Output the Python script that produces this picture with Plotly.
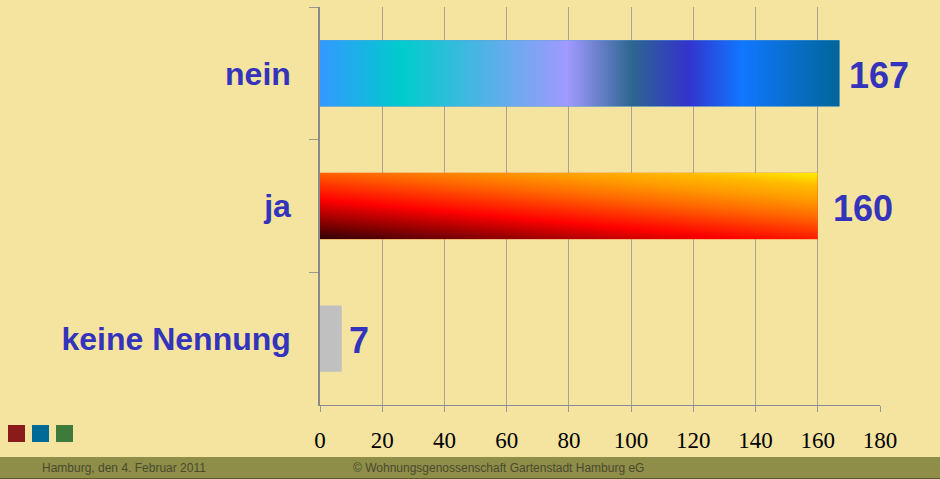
import base64
import plotly.graph_objects as go

# ---- data ----
categories = ["nein", "ja", "keine Nennung"]
values = [167, 160, 7]
x_ticks = [0, 20, 40, 60, 80, 100, 120, 140, 160, 180]
footer_left = "Hamburg, den 4. Februar 2011"
footer_mid = "© Wohnungsgenossenschaft Gartenstadt Hamburg eG"

# ---- styles ----
W, H = 940, 479
BG = "#F4E4A0"
BLUE = "#3333BB"
L, R, T, B = 320, 60, 7, 74
PW, PH = W - L - R, H - T - B


def px_x(x):
    return (x - L) / PW


def px_y(y):
    return (H - B - y) / PH


def svg_uri(stops, x1, y1, x2, y2):
    st = "".join(f'<stop offset="{o}" stop-color="{c}"/>' for o, c in stops)
    svg = (f'<svg xmlns="http://www.w3.org/2000/svg" width="100" height="100" '
           f'viewBox="0 0 100 100" preserveAspectRatio="none">'
           f'<defs><linearGradient id="g" x1="{x1}" y1="{y1}" x2="{x2}" y2="{y2}">{st}'
           f'</linearGradient></defs><rect x="0" y="0" width="100" height="100" fill="url(#g)"/></svg>')
    return "data:image/svg+xml;base64," + base64.b64encode(svg.encode()).decode()


grad_nein = svg_uri([(0, "#3399FF"), (0.158, "#00CCCC"), (0.477, "#A099FF"),
                     (0.6, "#2E6690"), (0.708, "#3333CC"), (0.813, "#1177FF"),
                     (1, "#006699")], 0, 0, 1, 0)
grad_ja = svg_uri([(0, "#300000"), (0.35, "#FF0000"), (0.6, "#FF6600"),
                   (0.75, "#FF9900"), (0.88, "#FFBB00"), (1, "#FFEE00")],
                  0, 1, 0.807, -0.138)
fills = [grad_nein, grad_ja, None]
base_colors = ["#3388DD", "#FF5500", "#C0C0C0"]

fig = go.Figure()
fig.add_trace(go.Bar(
    y=categories, x=values, orientation="h", width=0.5,
    marker=dict(color=base_colors, line=dict(width=0)),
    hoverinfo="x+y",
))

images = []
for i, (c, v, f) in enumerate(zip(categories, values, fills)):
    if f:
        images.append(dict(source=f, xref="x", yref="y", x=0, y=i, sizex=v, sizey=0.5,
                           xanchor="left", yanchor="middle", sizing="stretch",
                           layer="above"))

shifts = [7, 13, 5]
annotations = []
for c, v, s in zip(categories, values, shifts):
    annotations.append(dict(x=v, y=c, xref="x", yref="y", text=str(v), showarrow=False,
                            xanchor="left", yanchor="middle", xshift=s, yshift=-2,
                            font=dict(family="Liberation Sans, Arial", size=36,
                                      color=BLUE, weight="bold")))

# footer texts
annotations.append(dict(x=px_x(40), y=px_y(468), xref="paper", yref="paper",
                        text=footer_left, showarrow=False, xanchor="left", yanchor="middle",
                        font=dict(family="Liberation Sans, Arial", size=12, color="#4A4A2E")))
annotations.append(dict(x=px_x(351), y=px_y(468), xref="paper", yref="paper",
                        text=footer_mid, showarrow=False, xanchor="left", yanchor="middle",
                        font=dict(family="Liberation Sans, Arial", size=12, color="#4A4A2E")))

shapes = [
    dict(type="rect", xref="paper", yref="paper", x0=px_x(0), x1=px_x(W),
         y0=px_y(457), y1=px_y(479), fillcolor="#8E8E48", line=dict(width=0), layer="below"),
    dict(type="line", xref="paper", yref="paper", x0=px_x(0), x1=px_x(W),
         y0=px_y(478.5), y1=px_y(478.5), line=dict(color="#5A5A2A", width=1)),
]
for x0, col in [(8, "#8B1A1A"), (32, "#006A96"), (56, "#3E7A3A")]:
    shapes.append(dict(type="rect", xref="paper", yref="paper", x0=px_x(x0), x1=px_x(x0 + 17),
                       y0=px_y(442), y1=px_y(425), fillcolor=col, line=dict(width=0)))

fig.update_layout(
    width=W, height=H,
    margin=dict(l=L, r=R, t=T, b=B, pad=0),
    paper_bgcolor=BG, plot_bgcolor=BG,
    showlegend=False,
    images=images, annotations=annotations, shapes=shapes,
    xaxis=dict(range=[0, 180], tickvals=x_ticks, ticktext=[str(t) for t in x_ticks],
               showgrid=True, gridcolor="#A8A490", gridwidth=1, zeroline=False,
               showline=True, linecolor="#8A8A98", linewidth=1,
               ticks="outside", ticklen=6, tickcolor="#999990",
               tickfont=dict(family="Liberation Serif, Times New Roman", size=23, color="#000000"),
               ticklabelstandoff=8, fixedrange=True),
    yaxis=dict(categoryorder="array", categoryarray=categories, autorange="reversed",
               showgrid=False, zeroline=False, showline=True, linecolor="#8A8A8A", linewidth=1.5,
               ticks="outside", tickson="boundaries", ticklen=9, tickcolor="#999990",
               tickfont=dict(family="Liberation Sans, Arial", size=32, color=BLUE, weight="bold"),
               ticklabelstandoff=21, fixedrange=True),
)

fig.write_html("out.html")
